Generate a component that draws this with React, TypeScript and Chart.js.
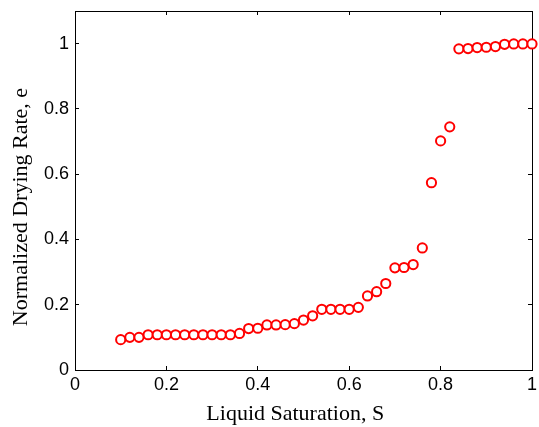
import React, { useEffect, useRef } from "react";
import { Chart, registerables } from "chart.js";

Chart.register(...registerables);

const saturation: number[] = [
  0.10, 0.12, 0.14, 0.16, 0.18, 0.20, 0.22, 0.24, 0.26, 0.28,
  0.30, 0.32, 0.34, 0.36, 0.38, 0.40, 0.42, 0.44, 0.46, 0.48,
  0.50, 0.52, 0.54, 0.56, 0.58, 0.60, 0.62, 0.64, 0.66, 0.68,
  0.70, 0.72, 0.74, 0.76, 0.78, 0.80, 0.82, 0.84, 0.86, 0.88,
  0.90, 0.92, 0.94, 0.96, 0.98, 1.00,
];
const dryingRate: number[] = [
  0.093, 0.100, 0.100, 0.108, 0.108, 0.108, 0.108, 0.108, 0.108, 0.108,
  0.108, 0.108, 0.108, 0.112, 0.127, 0.128, 0.138, 0.138, 0.139, 0.142,
  0.153, 0.166, 0.186, 0.186, 0.186, 0.186, 0.192, 0.227, 0.240, 0.265,
  0.313, 0.314, 0.323, 0.374, 0.574, 0.702, 0.745, 0.984, 0.985, 0.988,
  0.989, 0.991, 0.998, 0.999, 0.999, 0.999,
];
const xTicks: number[] = [0, 0.2, 0.4, 0.6, 0.8, 1];
const yTicks: number[] = [0, 0.2, 0.4, 0.6, 0.8, 1];
const xTitle = "Liquid Saturation, S";
const yTitle = "Normalized Drying Rate, e";

const TICK_IN = -4;

const zeroPad = (s: any) => {
  s.paddingTop = 0;
  s.paddingBottom = 0;
  s.paddingLeft = 0;
  s.paddingRight = 0;
};

const innerGrid = {
  display: true,
  drawOnChartArea: false,
  drawTicks: true,
  tickLength: TICK_IN,
  color: "#000000",
  lineWidth: 1,
};
const solidBorder = { display: true, color: "#000000", width: 1 };
const tickFont = { family: "'Liberation Sans', Arial, sans-serif", size: 18 };
const titleFont = { family: "'Liberation Serif', 'Times New Roman', serif", size: 22 };

export default function App() {
  const ref = useRef<HTMLCanvasElement>(null);
  useEffect(() => {
    if (!ref.current) return;
    const chart = new Chart(ref.current, {
      type: "scatter",
      data: {
        datasets: [
          {
            data: saturation.map((s, i) => ({ x: s, y: dryingRate[i] })),
            pointStyle: "circle",
            pointRadius: 4.6,
            pointBorderWidth: 2,
            borderColor: "#ff0000",
            backgroundColor: "#ffffff",
            clip: false as any,
          },
        ],
      },
      options: {
        animation: false,
        responsive: true,
        maintainAspectRatio: false,
        layout: { padding: { top: 11, right: 7, left: 0, bottom: 0 } },
        plugins: { legend: { display: false }, tooltip: { enabled: false } },
        scales: {
          x: {
            type: "linear",
            position: "bottom",
            min: 0,
            max: 1,
            grid: innerGrid,
            border: solidBorder,
            afterBuildTicks: (s: any) => {
              s.ticks = xTicks.map((v) => ({ value: v }));
            },
            afterFit: (s: any) => {
              s.height = 57;
              zeroPad(s);
            },
            ticks: {
              padding: 4 - TICK_IN,
              color: "#000",
              font: tickFont,
              callback: (v: any) => String(Number(v)),
            },
            title: {
              display: true,
              text: xTitle + "   ",
              color: "#000",
              font: titleFont,
              padding: { top: 2, bottom: 0 },
            },
          },
          x2: {
            type: "linear",
            position: "top",
            min: 0,
            max: 1,
            grid: innerGrid,
            border: solidBorder,
            afterBuildTicks: (s: any) => {
              s.ticks = xTicks.map((v) => ({ value: v }));
            },
            afterFit: (s: any) => {
              s.height = 0;
              zeroPad(s);
            },
            ticks: { display: false },
          },
          y: {
            type: "linear",
            position: "left",
            min: 0,
            max: 1.1,
            grid: innerGrid,
            border: solidBorder,
            afterBuildTicks: (s: any) => {
              s.ticks = yTicks.map((v) => ({ value: v }));
            },
            afterFit: (s: any) => {
              s.width = 75;
              zeroPad(s);
            },
            ticks: {
              padding: 6 - TICK_IN,
              color: "#000",
              font: tickFont,
              callback: (v: any) => String(Number(v)),
            },
            title: {
              display: true,
              text: yTitle + "      ",
              color: "#000",
              font: titleFont,
              padding: { top: 8, bottom: 0 },
            },
          },
          y2: {
            type: "linear",
            position: "right",
            min: 0,
            max: 1.1,
            grid: innerGrid,
            border: solidBorder,
            afterBuildTicks: (s: any) => {
              s.ticks = yTicks.map((v) => ({ value: v }));
            },
            afterFit: (s: any) => {
              s.width = 0;
              zeroPad(s);
            },
            ticks: { display: false },
          },
        },
      },
    });
    return () => chart.destroy();
  }, []);
  return (
    <div style={{ position: "absolute", left: 0, top: 0, width: 539, height: 427, background: "#fff" }}>
      <canvas ref={ref} />
    </div>
  );
}
